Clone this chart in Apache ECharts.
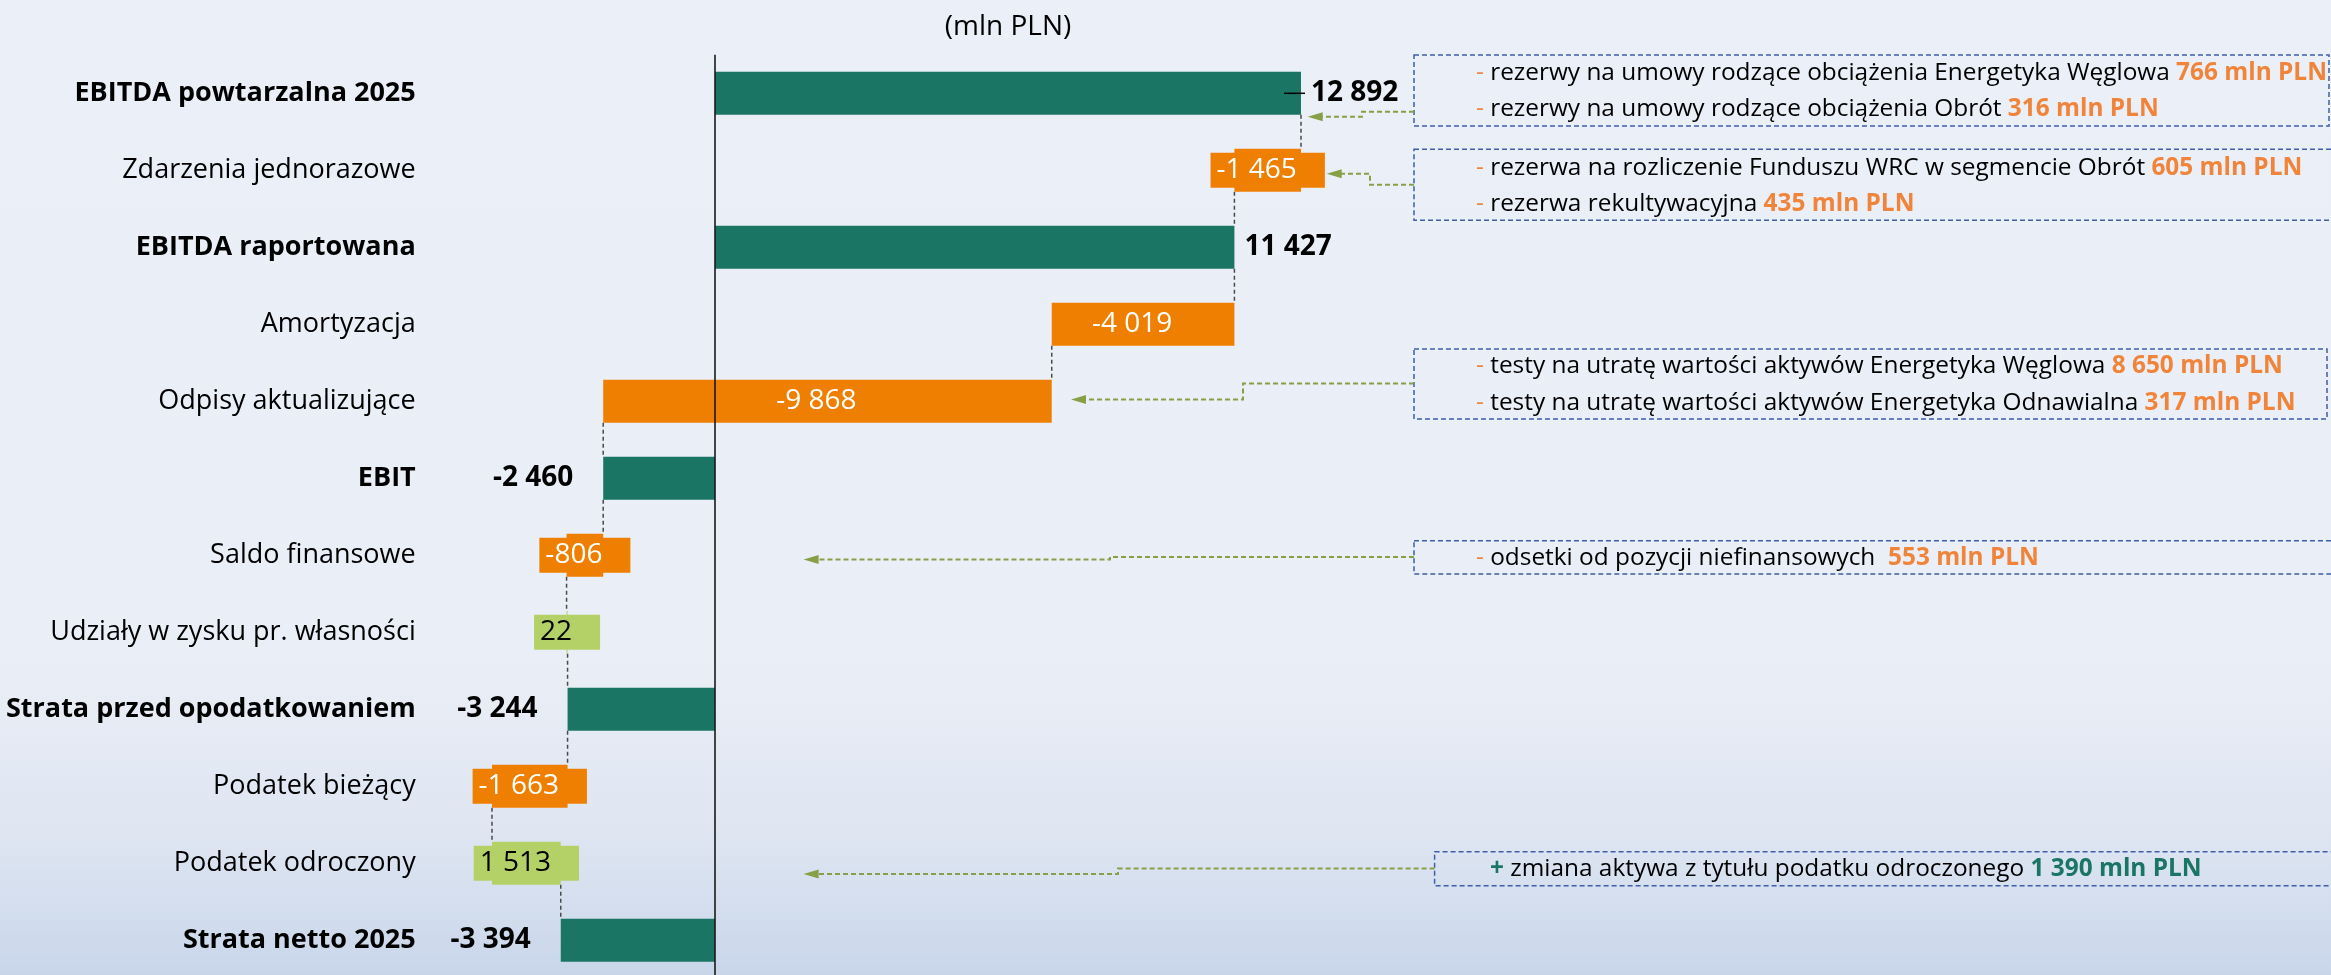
<!DOCTYPE html>
<html>
<head>
<meta charset="utf-8">
<script src="https://cdn.jsdelivr.net/npm/echarts@6/dist/echarts.min.js"></script>
<style>
html,body{margin:0;padding:0;background:#ebeff7;}
#chart{width:2331px;height:975px;}
</style>
</head>
<body>
<div id="chart"></div>
<script>
// kategorie od góry
var categories = ['EBITDA powtarzalna 2025', 'Zdarzenia jednorazowe', 'EBITDA raportowana', 'Amortyzacja',
  'Odpisy aktualizujące', 'EBIT', 'Saldo finansowe', 'Udziały w zysku pr. własności',
  'Strata przed opodatkowaniem', 'Podatek bieżący', 'Podatek odroczony', 'Strata netto 2025'];
var values = [12892, -1465, 11427, -4019, -9868, -2460, -806, 22, -3244, -1663, 1513, -3394];
var isTotal = [true, false, true, false, false, true, false, false, true, false, false, true];

// opisy po prawej
var noteSigns = ['-', '-', '-', '-', '+'];
var noteTexts = [
  ['rezerwy na umowy rodzące obciążenia Energetyka Węglowa ', 'rezerwy na umowy rodzące obciążenia Obrót '],
  ['rezerwa na rozliczenie Funduszu WRC w segmencie Obrót ', 'rezerwa rekultywacyjna '],
  ['testy na utratę wartości aktywów Energetyka Węglowa ', 'testy na utratę wartości aktywów Energetyka Odnawialna '],
  ['odsetki od pozycji niefinansowych  '],
  ['zmiana aktywa z tytułu podatku odroczonego ']
];
var noteValues = [
  ['766 mln PLN', '316 mln PLN'],
  ['605 mln PLN', '435 mln PLN'],
  ['8 650 mln PLN', '317 mln PLN'],
  ['553 mln PLN'],
  ['1 390 mln PLN']
];

var DARK = '#1b7564', ORANGE = '#ef7f00', LIGHT = '#b4d168';
var FONT = '"Open Sans", sans-serif';
var BAR_H = 43;

function fmt(v) {
  var s = Math.abs(v).toString().replace(/\B(?=(\d{3})+(?!\d))/g, ' ');
  return (v < 0 ? '-' : '') + s;
}

// waterfall: start/end kazdego slupka
var barData = [], linkData = [];
var run = 0;
for (var i = 0; i < values.length; i++) {
  var s, e;
  if (isTotal[i]) { s = 0; e = values[i]; }
  else { s = run; e = run + values[i]; }
  run = e;
  barData.push([i, s, e, values[i]]);
  if (i < values.length - 1) linkData.push([i, e]);
}

function renderBar(params, api) {
  var idx = api.value(0), s = api.value(1), e = api.value(2), v = api.value(3);
  var p1 = api.coord([s, idx]), p2 = api.coord([e, idx]);
  var x0 = Math.min(p1[0], p2[0]), x1 = Math.max(p1[0], p2[0]);
  var w = Math.max(x1 - x0, 1);
  var total = isTotal[idx];
  var color = total ? DARK : (v < 0 ? ORANGE : LIGHT);
  var el = {
    type: 'rect',
    shape: {x: x0, y: p1[1] - BAR_H / 2, width: w, height: BAR_H},
    style: {fill: color}
  };
  if (total) {
    el.textContent = {style: {text: fmt(v), fill: '#000', font: 'bold 28px ' + FONT}};
    el.textConfig = v < 0 ? {position: 'left', distance: 30} : {position: 'right', distance: 10};
  } else {
    el.textContent = {style: {
      text: fmt(v), fill: v < 0 ? '#fff' : '#000', font: '28px ' + FONT,
      backgroundColor: color, padding: [3, 28, 3, 6], lineHeight: 29
    }};
    el.textConfig = {position: 'inside'};
  }
  if (idx === 0) {
    return {type: 'group', children: [el, {
      type: 'line', shape: {x1: x1 - 17, y1: p1[1], x2: x1 + 4, y2: p1[1]},
      style: {stroke: '#000', lineWidth: 1.5}, z2: 10
    }]};
  }
  return el;
}

function renderLink(params, api) {
  var idx = api.value(0), x = api.value(1);
  var a = api.coord([x, idx]), b = api.coord([x, idx + 1]);
  return {
    type: 'line',
    shape: {x1: a[0], y1: a[1] + BAR_H / 2, x2: b[0], y2: b[1] - BAR_H / 2},
    style: {stroke: '#4a4a4a', lineWidth: 1.5, lineDash: [4, 3]}
  };
}

// ramki z opisami i strzalki
var boxes = [
  {x: 1414, y: 55, w: 915, h: 71, ty: [73, 109.5], tx: 1476,
    arrow: [[1414, 111.7], [1362, 111.7], [1362, 116.7], [1321, 116.7]], tip: [1307.7, 116.7]},
  {x: 1414, y: 149.3, w: 930, h: 71, ty: [168.3, 204], tx: 1476,
    arrow: [[1414, 184.7], [1370, 184.7], [1370, 173.7], [1340, 173.7]], tip: [1326.7, 173.7]},
  {x: 1414, y: 349, w: 913, h: 70, ty: [366.3, 403], tx: 1476,
    arrow: [[1414, 383.5], [1243, 383.5], [1243, 399.5], [1085, 399.5]], tip: [1071, 399.5]},
  {x: 1414, y: 540.7, w: 930, h: 33.3, ty: [558], tx: 1476,
    arrow: [[1414, 557], [1110, 557], [1110, 559.5], [817, 559.5]], tip: [803.6, 559.5]},
  {x: 1434.6, y: 851.7, w: 910, h: 34, ty: [869.5], tx: 1490,
    arrow: [[1434.6, 868.5], [1118, 868.5], [1118, 873.9], [817, 873.9]], tip: [803.6, 873.9]}
];

var graphics = [{
  type: 'text', x: 1008, y: 27,
  style: {text: '(mln PLN)', font: '28px ' + FONT, fill: '#000', textAlign: 'center', textVerticalAlign: 'middle'}
}];
boxes.forEach(function (b, k) {
  graphics.push({
    type: 'rect', shape: {x: b.x, y: b.y, width: b.w, height: b.h},
    style: {fill: 'none', stroke: '#3d5fa8', lineWidth: 1.5, lineDash: [5, 3]}
  });
  var plus = noteSigns[k] === '+';
  var accent = plus ? DARK : '#f0843a';
  noteTexts[k].forEach(function (t, j) {
    graphics.push({
      type: 'text', x: b.tx, y: b.ty[j],
      style: {
        text: '{s|' + noteSigns[k] + '}{t| ' + t + '}{v|' + noteValues[k][j] + '}',
        textVerticalAlign: 'middle',
        rich: {
          s: {font: (plus ? 'bold ' : '') + '24.4px ' + FONT, fill: accent},
          t: {font: '24.4px ' + FONT, fill: '#000'},
          v: {font: 'bold 24.4px ' + FONT, fill: accent}
        }
      }
    });
  });
  graphics.push({
    type: 'polyline', shape: {points: b.arrow},
    style: {fill: 'none', stroke: '#87a048', lineWidth: 2, lineDash: [5, 3]}
  });
  graphics.push({
    type: 'polygon',
    shape: {points: [b.tip, [b.tip[0] + 15, b.tip[1] - 4.5], [b.tip[0] + 15, b.tip[1] + 4.5]]},
    style: {fill: '#87a048'}
  });
});

var echartsWarp = document.getElementById('chart');
var myChart = echarts.init(echartsWarp);
myChart.setOption({
  animation: false,
  backgroundColor: {
    type: 'linear', x: 0, y: 0, x2: 0, y2: 1,
    colorStops: [
      {offset: 0, color: '#ebeff7'},
      {offset: 0.68, color: '#eaeef6'},
      {offset: 0.85, color: '#dfe6f2'},
      {offset: 1, color: '#c9d6ea'}
    ]
  },
  grid: {left: 442.3, top: 54.8, width: 1454.5, height: 924, outerBoundsMode: 'none', containLabel: false},
  xAxis: {type: 'value', min: -6000, max: 26000, show: false, splitLine: {show: false}},
  yAxis: {
    type: 'category', data: categories, inverse: true,
    axisLine: {show: false}, axisTick: {show: false},
    axisLabel: {
      margin: 26.6, color: '#000',
      formatter: function (v, i) { return (isTotal[i] ? '{b|' : '{n|') + v + '}'; },
      rich: {
        b: {fontFamily: FONT, fontSize: 27, fontWeight: 'bold', color: '#000'},
        n: {fontFamily: FONT, fontSize: 27, color: '#000'}
      }
    }
  },
  graphic: graphics,
  series: [{
    type: 'custom', renderItem: renderLink, data: linkData,
    encode: {x: 1, y: 0}, silent: true, z: 1
  }, {
    type: 'custom', renderItem: renderBar, data: barData,
    encode: {x: [1, 2], y: 0}, silent: true, z: 2,
    markLine: {
      silent: true, symbol: ['none', 'none'], label: {show: false},
      lineStyle: {color: '#1a1a1a', width: 1.6, type: 'solid'},
      data: [{xAxis: 0}]
    }
  }]
});
</script>
</body>
</html>
